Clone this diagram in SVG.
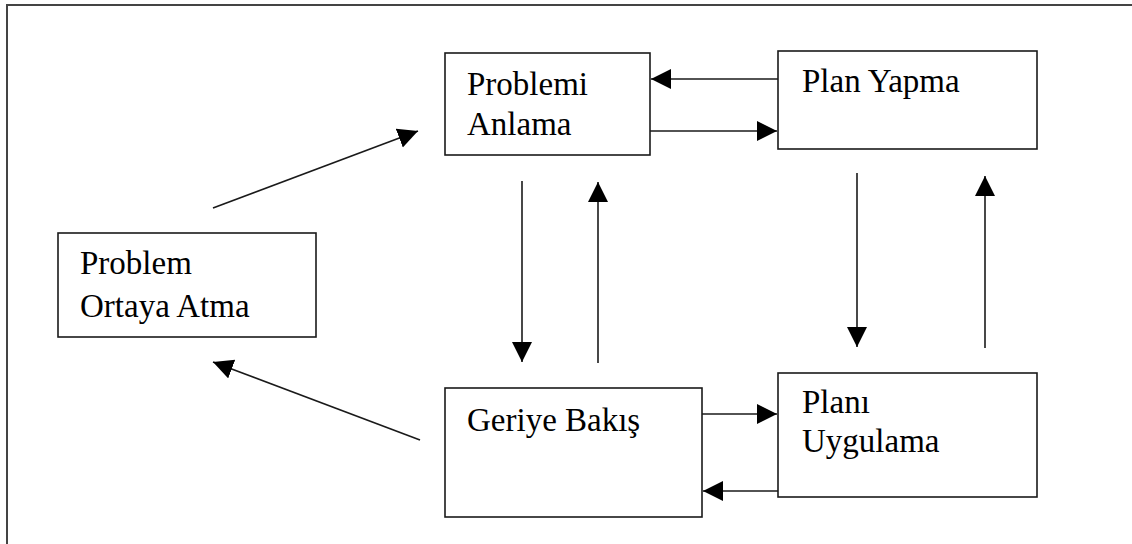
<svg xmlns="http://www.w3.org/2000/svg" width="1132" height="544" viewBox="0 0 1132 544">
<style>
.box{fill:#fff;stroke:#1a1a1a;stroke-width:1.6}
.lbl{font-family:"Liberation Serif","Times New Roman",serif;font-size:33px;fill:#000}
.con{stroke:#1a1a1a;stroke-width:1.6;fill:none;marker-end:url(#ah)}
.frame{fill:none;stroke:#444;stroke-width:2}
</style>
<defs>
<marker id="ah" markerUnits="userSpaceOnUse" markerWidth="22" markerHeight="22" refX="20" refY="10" orient="auto">
<path d="M0,0 L20,10 L0,20 Z" fill="#000"/>
</marker>
</defs>
<path class="frame" d="M7,544 V5 H1132"/>
<g id="problemi-anlama">
<rect class="box" x="445" y="53" width="205" height="102"/>
<text class="lbl" x="467" y="95">Problemi</text>
<text class="lbl" x="467" y="135">Anlama</text>
</g>
<g id="plan-yapma">
<rect class="box" x="778" y="51" width="259" height="98"/>
<text class="lbl" x="802" y="92">Plan Yapma</text>
</g>
<g id="problem-ortaya-atma">
<rect class="box" x="58" y="233" width="258" height="104"/>
<text class="lbl" x="80" y="274">Problem</text>
<text class="lbl" x="80" y="317">Ortaya Atma</text>
</g>
<g id="geriye-bakis">
<rect class="box" x="445" y="388" width="257" height="129"/>
<text class="lbl" x="467" y="431">Geriye Bakış</text>
</g>
<g id="plani-uygulama">
<rect class="box" x="778" y="373" width="259" height="124"/>
<text class="lbl" x="802" y="413">Planı</text>
<text class="lbl" x="802" y="452">Uygulama</text>
</g>
<g id="connectors">
<line class="con" x1="778" y1="79" x2="651" y2="79"/>
<line class="con" x1="650" y1="131" x2="777" y2="131"/>
<line class="con" x1="702" y1="414" x2="777" y2="414"/>
<line class="con" x1="778" y1="491" x2="703" y2="491"/>
<line class="con" x1="522" y1="181" x2="522" y2="362"/>
<line class="con" x1="598" y1="363" x2="598" y2="182"/>
<line class="con" x1="857" y1="173" x2="857" y2="347"/>
<line class="con" x1="985" y1="348" x2="985" y2="176"/>
<line class="con" x1="213" y1="208" x2="418" y2="131"/>
<line class="con" x1="420" y1="440" x2="213" y2="362"/>
</g>
</svg>
